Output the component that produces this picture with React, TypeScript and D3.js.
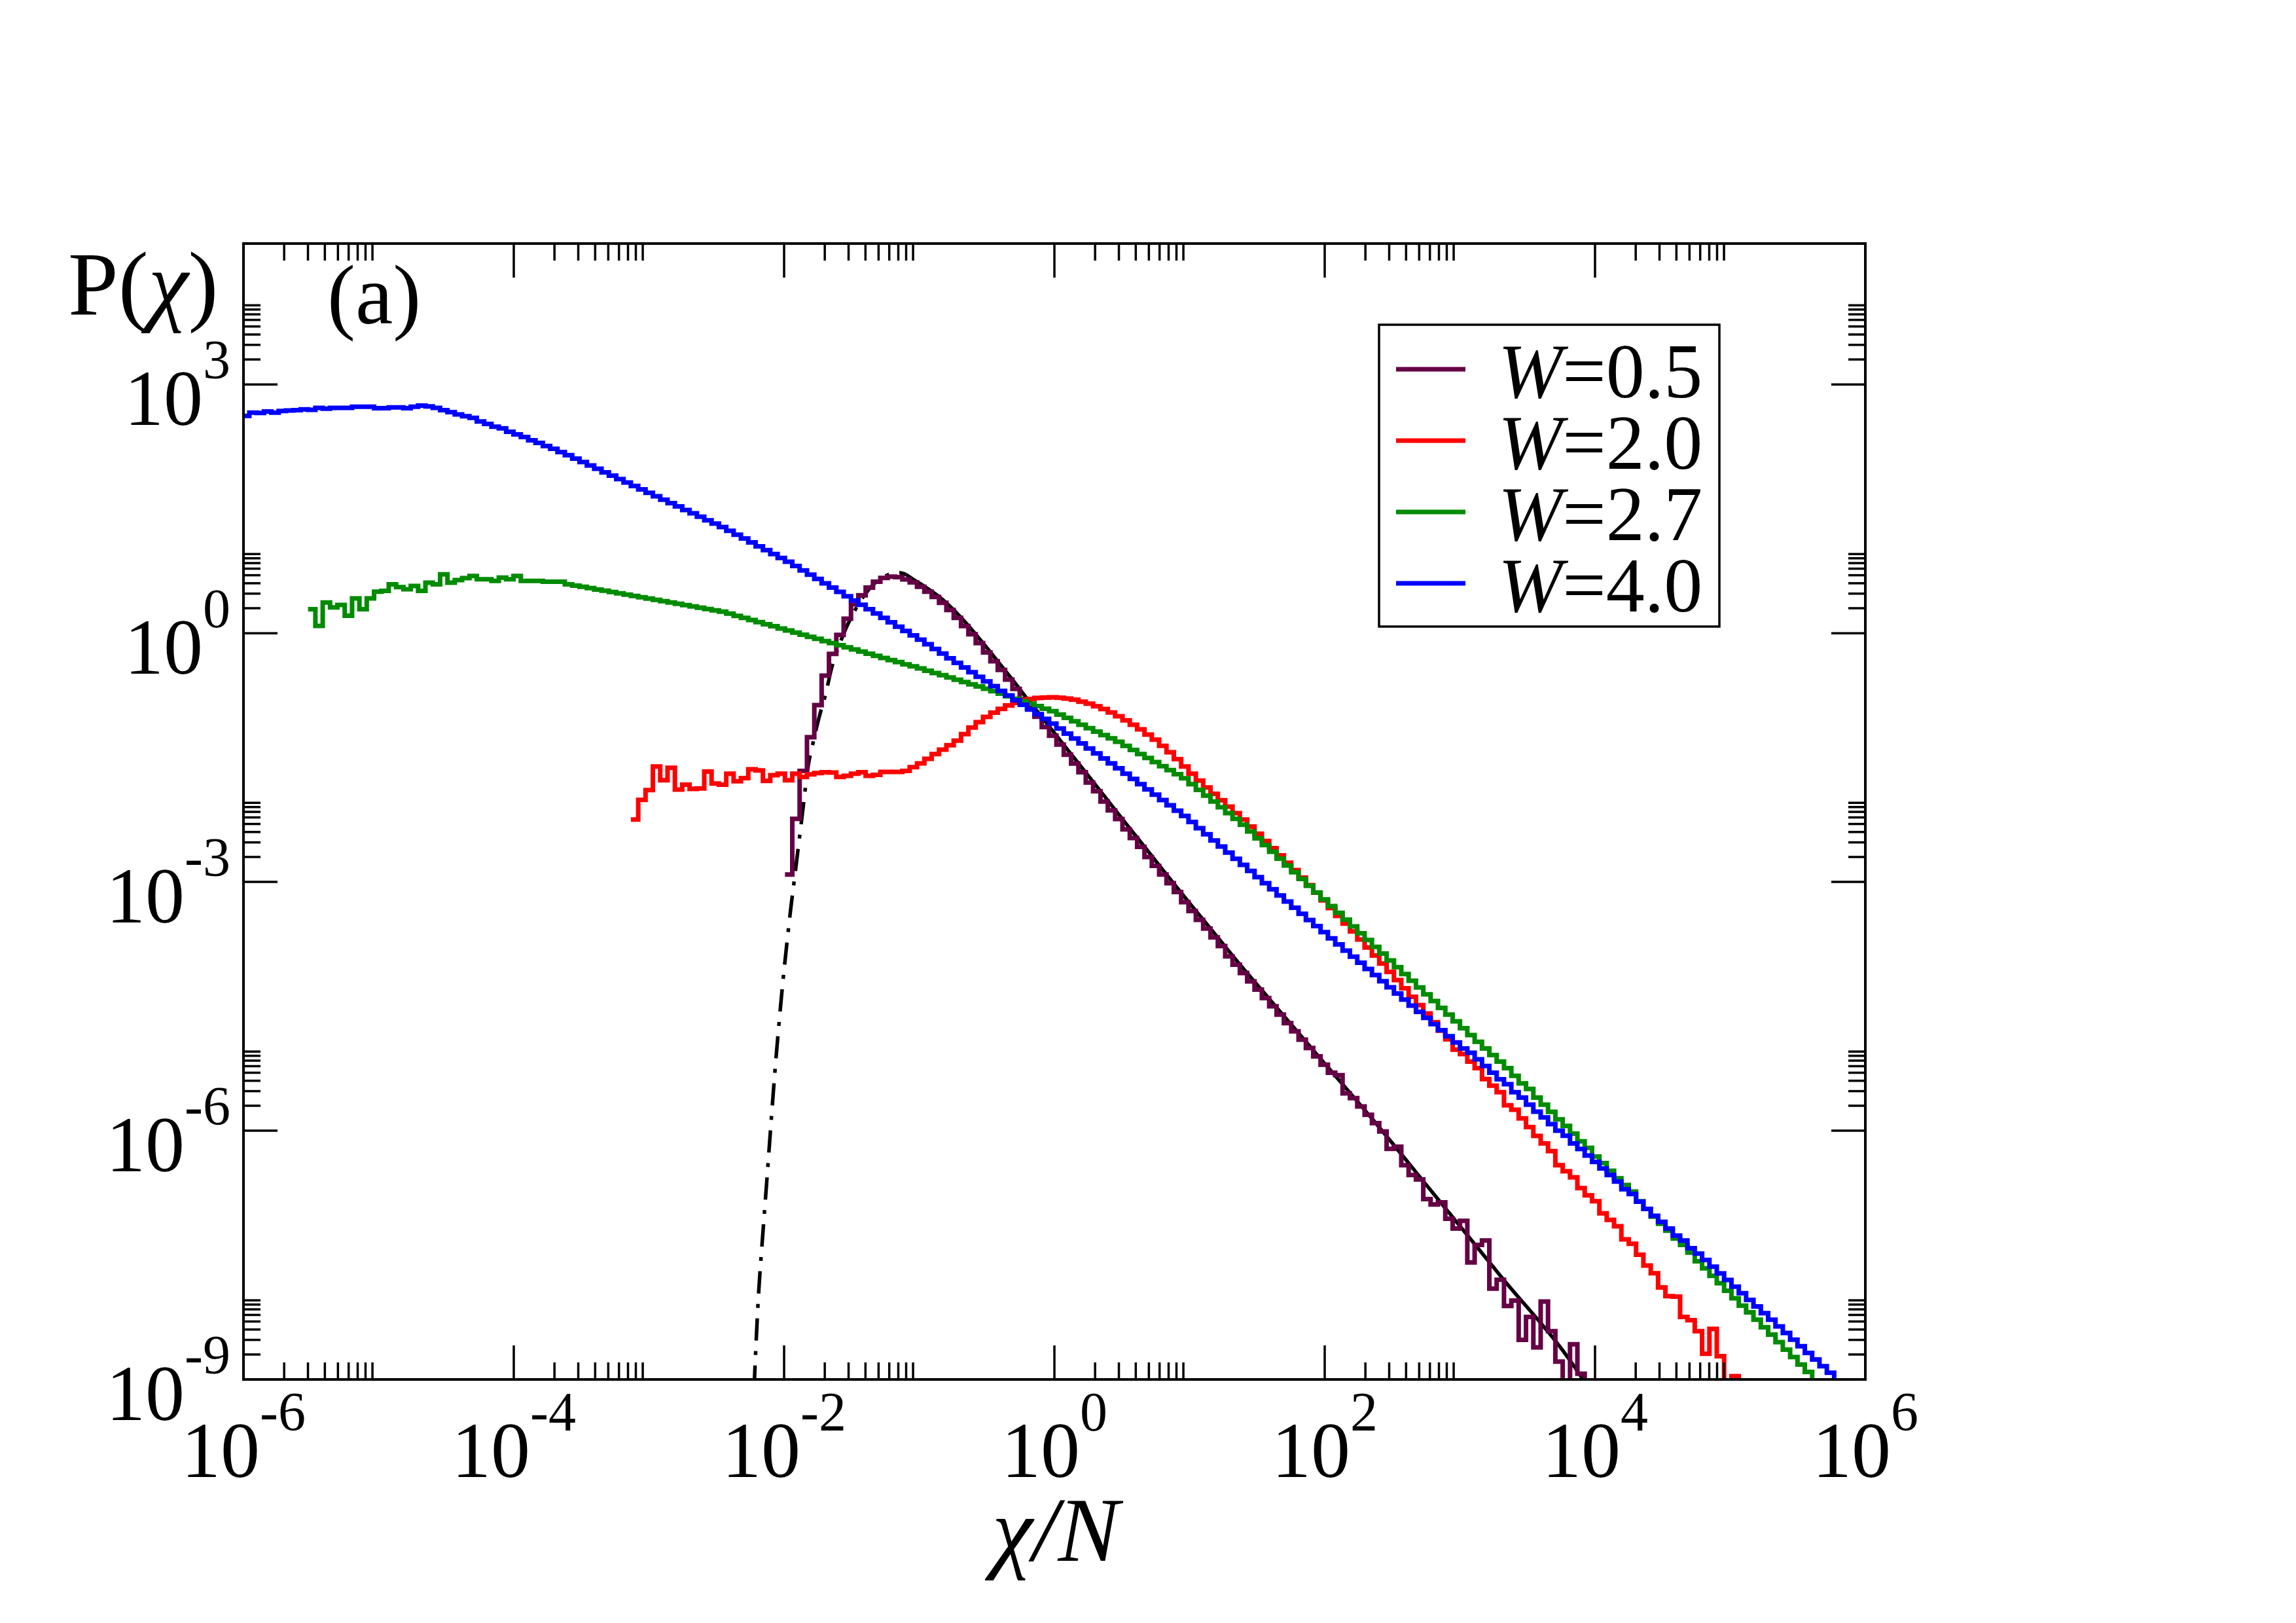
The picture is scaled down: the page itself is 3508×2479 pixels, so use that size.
import React from 'react';
import * as d3 from 'd3';

// Histogram bins are equally spaced in ln(chi/N): 8 bins per e-fold.
const BIN = 0.125 / Math.LN10;
const BIN_SHIFT = 0.015;

// log10 P(chi), one value per bin; the first value belongs to bin `...Start`.
const w05Start = -37;
const w05LogP = [
  -2.91, -2.24, -1.66, -1.254, -0.867, -0.513, -0.25, -0.02, 0.174, 0.349, 0.458, 0.55, 0.62, 0.666, 0.683, 0.676,
  0.649, 0.613, 0.56, 0.5, 0.437, 0.367, 0.279, 0.184, 0.085, -0.013, -0.12, -0.232, -0.338, -0.444, -0.56,
  -0.673, -0.796, -0.902, -1.008, -1.131, -1.237, -1.343, -1.466, -1.572, -1.677, -1.801, -1.906, -2.03, -2.136,
  -2.241, -2.365, -2.47, -2.576, -2.699, -2.805, -2.911, -3.016, -3.122, -3.245, -3.351, -3.457, -3.562, -3.668,
  -3.774, -3.897,
  -3.998, -4.098, -4.199, -4.299, -4.4, -4.5, -4.601, -4.702, -4.802, -4.903, -5.003, -5.104, -5.205, -5.3, -5.33,
  -5.55, -5.607, -5.708, -5.808, -5.909,
  -6.01, -6.219, -6.193, -6.417, -6.535, -6.588, -6.825, -6.89, -6.864, -7.061, -7.18, -7.088, -7.588, -7.377,
  -7.324, -7.904, -7.798, -8.114, -8.048, -8.522, -8.245, -8.614, -8.061, -8.417, -8.785, -9.3, -8.575, -8.93, -9.3,
];

const w20Start = -58;
const w20LogP = [
  -2.247, -2.01, -1.892, -1.608, -1.773, -1.623, -1.886, -1.826, -1.878, -1.873, -1.668, -1.813, -1.826, -1.694,
  -1.786, -1.747, -1.642, -1.655, -1.781, -1.713, -1.694, -1.773, -1.694, -1.734, -1.702, -1.686, -1.676, -1.681,
  -1.734, -1.721, -1.694, -1.676, -1.721, -1.708, -1.673, -1.673, -1.673, -1.66, -1.615,
  -1.57, -1.514, -1.458, -1.404, -1.352, -1.295, -1.217, -1.138, -1.073, -1.009, -0.958, -0.912, -0.871, -0.839,
  -0.809, -0.795, -0.781, -0.776, -0.772, -0.778, -0.788, -0.803, -0.827, -0.85, -0.882, -0.914, -0.957, -1.002,
  -1.052, -1.105, -1.16, -1.222, -1.284, -1.359, -1.435, -1.519, -1.607, -1.694, -1.778, -1.861, -1.938, -2.015,
  -2.092, -2.17, -2.248,
  -2.333, -2.419, -2.505, -2.592, -2.68, -2.769, -2.858, -2.948, -3.039, -3.13, -3.222, -3.315, -3.409, -3.503,
  -3.598, -3.694, -3.79, -3.887, -3.985, -4.084, -4.183, -4.283, -4.384, -4.485, -4.587, -4.69, -4.794, -4.898,
  -5.022, -5.075, -5.167, -5.246, -5.378, -5.457, -5.535, -5.693, -5.746, -5.851, -5.957, -6.062, -6.154, -6.246,
  -6.417, -6.49, -6.562, -6.693, -6.78, -6.851, -6.996, -7.075, -7.153, -7.311, -7.364, -7.496, -7.627, -7.719,
  -7.891, -7.996, -8.001, -8.246, -8.285, -8.417,
  -8.69, -8.39, -8.72, -9.2, -8.96, -9.3,
];

const w27Start = -102;
const w27LogP = [
  0.29, 0.087, 0.37, 0.31, 0.34, 0.21, 0.42, 0.29, 0.42, 0.5, 0.51, 0.59, 0.555, 0.53, 0.57, 0.51, 0.61, 0.59,
  0.71, 0.61, 0.64, 0.665, 0.69, 0.65, 0.65, 0.63, 0.67, 0.65, 0.69, 0.63, 0.63, 0.63, 0.62, 0.62, 0.62, 0.59,
  0.574, 0.559, 0.543, 0.527, 0.512, 0.496, 0.48, 0.464, 0.449, 0.433, 0.417, 0.402, 0.386, 0.37, 0.354, 0.339,
  0.323, 0.307, 0.291, 0.276, 0.26,
  0.235, 0.209, 0.184, 0.159, 0.133, 0.108, 0.083, 0.057, 0.032, 0.007, -0.019, -0.044, -0.069, -0.095, -0.12, -0.145,
  -0.171, -0.196, -0.222, -0.247, -0.273, -0.298, -0.324, -0.349, -0.375, -0.4, -0.426,
  -0.453, -0.48, -0.507, -0.534, -0.562, -0.589, -0.616, -0.643, -0.67,
  -0.7, -0.73, -0.76, -0.79, -0.82, -0.85, -0.88, -0.91, -0.94,
  -0.981, -1.022, -1.063, -1.104, -1.145, -1.187, -1.228, -1.269, -1.31,
  -1.359, -1.408, -1.457, -1.506, -1.554, -1.603, -1.652, -1.701, -1.75,
  -1.82, -1.89, -1.96, -2.03, -2.1, -2.17, -2.24, -2.31,
  -2.392, -2.474, -2.555, -2.637, -2.719, -2.801, -2.883, -2.964, -3.046, -3.128, -3.21, -3.292, -3.373, -3.455,
  -3.537, -3.619, -3.701, -3.782, -3.864, -3.946, -4.028, -4.11, -4.191, -4.273, -4.355, -4.437, -4.519, -4.6,
  -4.682, -4.764, -4.846, -4.928,
  -5.009, -5.088, -5.167, -5.246, -5.338, -5.43, -5.496, -5.601, -5.686, -5.772, -5.864, -5.943, -6.036, -6.128,
  -6.207, -6.312, -6.391, -6.483, -6.575, -6.654, -6.733, -6.851, -6.943, -7.035, -7.122, -7.206, -7.301, -7.377,
  -7.47, -7.575,
  -7.66, -7.75, -7.84, -7.93, -8.02, -8.11, -8.19, -8.28, -8.37, -8.46, -8.55, -8.64, -8.73, -8.82, -8.91, -9.05,
];

const w40Start = -111;
const w40LogP = [
  2.62, 2.66, 2.655, 2.673, 2.66, 2.68, 2.686, 2.69, 2.7, 2.694, 2.718, 2.707, 2.718, 2.718, 2.718, 2.731, 2.731,
  2.731, 2.713, 2.713, 2.723, 2.723, 2.713, 2.731, 2.744, 2.734, 2.718, 2.69, 2.665, 2.638, 2.617, 2.596, 2.554,
  2.523, 2.491, 2.47, 2.428, 2.397, 2.365, 2.326, 2.294, 2.257, 2.223, 2.184, 2.147,
  2.106, 2.064, 2.023, 1.982, 1.94, 1.899, 1.858, 1.817, 1.775, 1.734, 1.693, 1.651, 1.61, 1.569, 1.528, 1.486,
  1.445, 1.404, 1.362, 1.321, 1.28,
  1.234, 1.187, 1.141, 1.094, 1.048, 1.001, 0.955, 0.908, 0.862,
  0.81, 0.758, 0.706, 0.654, 0.602, 0.55, 0.498, 0.446, 0.394,
  0.342, 0.289, 0.237, 0.184, 0.132, 0.079, 0.027, -0.026, -0.078,
  -0.134, -0.19, -0.246, -0.302, -0.358, -0.414, -0.47, -0.526, -0.582,
  -0.638, -0.695, -0.751, -0.808, -0.864, -0.92, -0.977, -1.033, -1.09,
  -1.15, -1.21, -1.27, -1.33, -1.39, -1.45, -1.51, -1.57, -1.63,
  -1.694, -1.757, -1.821, -1.885, -1.948, -2.012, -2.076, -2.14, -2.203,
  -2.277, -2.351, -2.425, -2.499, -2.572, -2.646, -2.72, -2.794, -2.868, -2.942, -3.015, -3.089, -3.163, -3.237,
  -3.311, -3.385, -3.459, -3.532, -3.606, -3.68, -3.754, -3.828, -3.902, -3.975, -4.049, -4.123, -4.197, -4.271,
  -4.345, -4.418, -4.492, -4.566, -4.64, -4.714, -4.788, -4.861, -4.935,
  -5.009, -5.06, -5.14, -5.22, -5.3, -5.38, -5.44, -5.535, -5.6, -5.685, -5.77, -5.84, -5.92, -6.0, -6.06, -6.154,
  -6.22, -6.3, -6.377, -6.456, -6.535, -6.614, -6.706, -6.764, -6.856, -6.943, -7.027, -7.1, -7.18, -7.264, -7.325,
  -7.417, -7.483,
  -7.56, -7.64, -7.72, -7.8, -7.88, -7.96, -8.04, -8.12, -8.2, -8.28, -8.36, -8.44, -8.52, -8.6, -8.68, -8.76,
  -8.84, -8.92, -9.05,
];

// Fit to the W=0.5 distribution: [log10(chi/N), log10 P]
const fitRise: [number, number][] = [
  [-2.222, -9.1], [-2.19, -8.0], [-2.16, -7.3], [-2.13, -6.65], [-2.1, -5.98], [-2.07, -5.33], [-2.04, -4.75],
  [-2.01, -4.22], [-1.98, -3.75], [-1.95, -3.31], [-1.92, -2.92], [-1.895, -2.58], [-1.87, -2.25], [-1.845, -1.9],
  [-1.82, -1.58], [-1.795, -1.39], [-1.77, -1.21], [-1.745, -1.04], [-1.72, -0.89], [-1.695, -0.75], [-1.65, -0.43],
  [-1.6, -0.18], [-1.55, 0.03], [-1.5, 0.2], [-1.45, 0.35], [-1.4, 0.47], [-1.35, 0.57], [-1.3, 0.64],
  [-1.25, 0.69], [-1.2, 0.72], [-1.15, 0.73], [-1.1, 0.71],
];
const fitFall: [number, number][] = [
  [-1.1, 0.71], [-1.04, 0.645], [-0.962, 0.565], [-0.853, 0.44], [-0.745, 0.28], [-0.636, 0.09], [-0.528, -0.12],
  [-0.419, -0.34], [-0.311, -0.56], [-0.202, -0.79], [-0.094, -1.01], [0.015, -1.235], [0.124, -1.46],
  [0.232, -1.68], [0.341, -1.905], [0.449, -2.13], [0.558, -2.355], [0.666, -2.575], [0.775, -2.8], [0.884, -3.02],
  [0.992, -3.24], [1.101, -3.455], [1.209, -3.67], [1.318, -3.89], [1.6, -4.43], [2.0, -5.19], [2.368, -5.89],
  [2.8, -6.75], [3.3, -7.75], [3.853, -8.86], [3.95, -9.1],
];

const seriesLabels = ['0.5', '2.0', '2.7', '4.0'];
const seriesColors = ['#650045', '#ff0000', '#008b00', '#0000ff'];
const seriesStarts = [w05Start, w20Start, w27Start, w40Start];
const seriesLogP = [w05LogP, w20LogP, w27LogP, w40LogP];

const xMajorExp = [-6, -4, -2, 0, 2, 4, 6];
const yMajorExp = [-9, -6, -3, 0, 3];
const minorMult = [2, 3, 4, 5, 6, 7, 8, 9];

const WIDTH = 3508;
const HEIGHT = 2479;
const PLOT = { left: 372, right: 2850, top: 372, bottom: 2107 };
const FONT = '"Liberation Serif", "Times New Roman", serif';
const MAJOR = 52;
const MINOR = 26;

export default function App() {
  const x = d3.scaleLog().domain([1e-6, 1e6]).range([PLOT.left, PLOT.right]);
  const y = d3.scaleLog().domain([1e-9, 5e4]).range([PLOT.bottom, PLOT.top]);
  const px = (lx: number) => x(Math.pow(10, lx));
  const py = (ly: number) => y(Math.pow(10, ly));

  const stepLine = d3
    .line<[number, number]>()
    .x((d) => px(d[0]))
    .y((d) => py(d[1]))
    .curve(d3.curveStepAfter);

  const smoothLine = d3
    .line<[number, number]>()
    .x((d) => px(d[0]))
    .y((d) => py(d[1]))
    .curve(d3.curveMonotoneX);

  const stepPoints = (start: number, vals: number[]): [number, number][] => {
    const pts: [number, number][] = vals.map((v, i) => [(start + i) * BIN + BIN_SHIFT, v]);
    pts.push([(start + vals.length) * BIN + BIN_SHIFT, vals[vals.length - 1]]);
    return pts;
  };

  const xMinor = xMajorExp.slice(0, -1).flatMap((e) => minorMult.map((m) => m * Math.pow(10, e)));
  const yMinor = yMajorExp.flatMap((e) => minorMult.map((m) => m * Math.pow(10, e))).filter((v) => v < 5e4);

  const ticks: { x1: number; y1: number; x2: number; y2: number }[] = [];
  xMajorExp.forEach((e) => {
    const xp = px(e);
    ticks.push({ x1: xp, y1: PLOT.bottom, x2: xp, y2: PLOT.bottom - MAJOR });
    ticks.push({ x1: xp, y1: PLOT.top, x2: xp, y2: PLOT.top + MAJOR });
  });
  xMinor.forEach((v) => {
    const xp = x(v);
    ticks.push({ x1: xp, y1: PLOT.bottom, x2: xp, y2: PLOT.bottom - MINOR });
    ticks.push({ x1: xp, y1: PLOT.top, x2: xp, y2: PLOT.top + MINOR });
  });
  yMajorExp.forEach((e) => {
    const yp = py(e);
    ticks.push({ x1: PLOT.left, y1: yp, x2: PLOT.left + MAJOR, y2: yp });
    ticks.push({ x1: PLOT.right, y1: yp, x2: PLOT.right - MAJOR, y2: yp });
  });
  yMinor.forEach((v) => {
    const yp = y(v);
    ticks.push({ x1: PLOT.left, y1: yp, x2: PLOT.left + MINOR, y2: yp });
    ticks.push({ x1: PLOT.right, y1: yp, x2: PLOT.right - MINOR, y2: yp });
  });

  const legendX = 2107;
  const legendY = 496;

  return (
    <div style={{ position: 'absolute', left: 0, top: 0 }}>
      <svg width={WIDTH} height={HEIGHT} viewBox={`0 0 ${WIDTH} ${HEIGHT}`} style={{ display: 'block', background: '#fff' }}>
        <rect x={0} y={0} width={WIDTH} height={HEIGHT} fill="#fff" />
        <defs>
          <clipPath id="plot-area">
            <rect x={PLOT.left} y={PLOT.top} width={PLOT.right - PLOT.left} height={PLOT.bottom - PLOT.top} />
          </clipPath>
        </defs>

        <g clipPath="url(#plot-area)" fill="none">
          <path
            d={smoothLine(fitRise) || ''}
            stroke="#000"
            strokeWidth={5.5}
            strokeDasharray="34 16 6 16"
          />
          <path d={smoothLine(fitFall) || ''} stroke="#000" strokeWidth={5.5} />
          {seriesLogP.map((vals, i) => (
            <path
              key={seriesLabels[i]}
              d={stepLine(stepPoints(seriesStarts[i], vals)) || ''}
              stroke={seriesColors[i]}
              strokeWidth={7}
              strokeLinejoin="miter"
              strokeLinecap="butt"
            />
          ))}
        </g>

        {/* frame and ticks */}
        <g stroke="#000" strokeWidth={3.5}>
          {ticks.map((t, i) => (
            <line key={i} x1={t.x1} y1={t.y1} x2={t.x2} y2={t.y2} />
          ))}
        </g>
        <rect
          x={PLOT.left}
          y={PLOT.top}
          width={PLOT.right - PLOT.left}
          height={PLOT.bottom - PLOT.top}
          fill="none"
          stroke="#000"
          strokeWidth={4}
        />

        {/* tick labels */}
        <g fontFamily={FONT} fill="#000">
          {xMajorExp.map((e) => (
            <text key={`xl${e}`} x={px(e)} y={2256} textAnchor="middle" fontSize={120}>
              10
              <tspan dy={-71} fontSize={84}>
                {e}
              </tspan>
            </text>
          ))}
          {yMajorExp.map((e) => (
            <text key={`yl${e}`} x={352} y={py(e) + 62} textAnchor="end" fontSize={120}>
              10
              <tspan dy={-71} fontSize={84}>
                {e}
              </tspan>
            </text>
          ))}
        </g>

        {/* axis titles and panel tag */}
        <g fontFamily={FONT} fill="#000">
          <text x={1613} y={2384} textAnchor="middle" fontSize={140} fontStyle="italic">
            χ/N
          </text>
          <text x={104} y={480} fontSize={138}>
            P(<tspan fontStyle="italic">χ</tspan>)
          </text>
          <text x={500} y={494} fontSize={129}>
            (a)
          </text>
        </g>

        {/* legend */}
        <rect x={legendX} y={legendY} width={520} height={461} fill="#fff" stroke="#000" strokeWidth={3.5} />
        {seriesLabels.map((lab, i) => (
          <g key={`lg${lab}`}>
            <line
              x1={2133}
              x2={2239}
              y1={564 + 109 * i}
              y2={564 + 109 * i}
              stroke={seriesColors[i]}
              strokeWidth={7}
            />
            <text x={2289} y={607 + 109 * i} fontFamily={FONT} fontSize={118} fill="#000">
              <tspan fontStyle="italic">W</tspan>={lab}
            </text>
          </g>
        ))}
      </svg>
    </div>
  );
}
